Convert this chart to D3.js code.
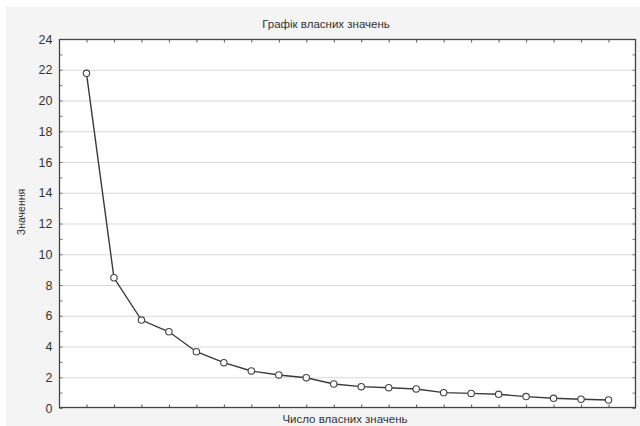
<!DOCTYPE html>
<html><head><meta charset="utf-8">
<script src="https://cdn.jsdelivr.net/npm/d3@7"></script>
<style>body{margin:0;background:#fff}svg{display:block}</style>
</head><body>
<script>
const title = "Графік власних значень";
const xLabel = "Число власних значень";
const yLabel = "Значення";
const eigenNumbers = d3.range(1, 21);
const eigenValues = [21.77, 8.47, 5.72, 4.96, 3.66, 2.95, 2.41, 2.15, 1.97, 1.56, 1.39, 1.32, 1.24, 1.0, 0.95, 0.89, 0.74, 0.63, 0.57, 0.52];
const yTicks = [0, 2, 4, 6, 8, 10, 12, 14, 16, 18, 20, 22, 24];

const W = 640, H = 426;
const m = {left: 59, top: 39, right: 4, bottom: 18};
const svg = d3.select("body").append("svg").attr("width", W).attr("height", H);
svg.append("rect").attr("x", 6).attr("y", 7).attr("width", W - 6).attr("height", H - 7).attr("fill", "#f4f4f4");

const x = d3.scaleLinear().domain([0, 21]).range([m.left, W - m.right]);
const y = d3.scaleLinear().domain([0, 24]).range([H - m.bottom, m.top]);

svg.append("rect").attr("x", x(0)).attr("y", y(24)).attr("width", x(21) - x(0)).attr("height", y(0) - y(24)).attr("fill", "#fff");

// gridlines
svg.append("g").selectAll("line").data(yTicks.filter(d => d > 0 && d < 24)).join("line")
  .attr("x1", x(0)).attr("x2", x(21)).attr("y1", d => y(d) + 0.5).attr("y2", d => y(d) + 0.5)
  .attr("stroke", "#d8d8d8").attr("stroke-width", 1);

const font = "Arial, 'Liberation Sans', sans-serif";
// left axis
const yAxis = svg.append("g").attr("transform", `translate(${x(0) + 0.5},0)`)
  .call(d3.axisLeft(y).tickValues(yTicks).tickSize(0).tickPadding(7));
yAxis.select(".domain").remove();
yAxis.selectAll("text").attr("font-family", font).attr("font-size", 12.5).attr("fill", "#333");
// minor ticks inward left
svg.append("g").attr("transform", `translate(${x(0) + 0.5},0)`)
  .call(d3.axisRight(y).tickValues(d3.range(0, 24.1, 1)).tickSize(3).tickFormat(""))
  .call(g => g.select(".domain").remove()).selectAll("line").attr("stroke", "#777");
// right axis ticks inward
svg.append("g").attr("transform", `translate(${x(21) - 0.5},0)`)
  .call(d3.axisLeft(y).tickValues(d3.range(0, 24.1, 1)).tickSize(3).tickFormat(""))
  .call(g => g.select(".domain").remove()).selectAll("line").attr("stroke", "#777");
// bottom ticks inward
svg.append("g").attr("transform", `translate(0,${y(0) - 0.5})`)
  .call(d3.axisTop(x).tickValues(eigenNumbers).tickSize(3).tickFormat(""))
  .call(g => g.select(".domain").remove()).selectAll("line").attr("stroke", "#555");
// top ticks inward
svg.append("g").attr("transform", `translate(0,${y(24) + 0.5})`)
  .call(d3.axisBottom(x).tickValues(eigenNumbers).tickSize(3).tickFormat(""))
  .call(g => g.select(".domain").remove()).selectAll("line").attr("stroke", "#555");

// frame
svg.append("rect").attr("x", x(0) + 0.5).attr("y", y(24) + 0.5)
  .attr("width", x(21) - x(0) - 1).attr("height", y(0) - y(24) - 1)
  .attr("fill", "none").attr("stroke", "#444").attr("stroke-width", 1.3);

// line
const pts = eigenNumbers.map((n, i) => [n, eigenValues[i]]);
svg.append("path").datum(pts)
  .attr("d", d3.line().x(d => x(d[0])).y(d => y(d[1])))
  .attr("fill", "none").attr("stroke", "#3a3a3a").attr("stroke-width", 1.4);
svg.append("g").selectAll("circle").data(pts).join("circle")
  .attr("cx", d => x(d[0])).attr("cy", d => y(d[1])).attr("r", 3.2)
  .attr("fill", "#fff").attr("stroke", "#444").attr("stroke-width", 1.1);

// texts
svg.append("text").attr("x", 326).attr("y", 28).attr("text-anchor", "middle")
  .attr("font-family", font).attr("font-size", 11.5).attr("fill", "#333").text(title);
svg.append("text").attr("x", 345).attr("y", 423).attr("text-anchor", "middle")
  .attr("font-family", font).attr("font-size", 11.5).attr("fill", "#333").text(xLabel);
svg.append("text").attr("transform", "translate(25,212) rotate(-90)").attr("text-anchor", "middle")
  .attr("font-family", font).attr("font-size", 10.5).attr("fill", "#333").text(yLabel);
</script>
</body></html>
